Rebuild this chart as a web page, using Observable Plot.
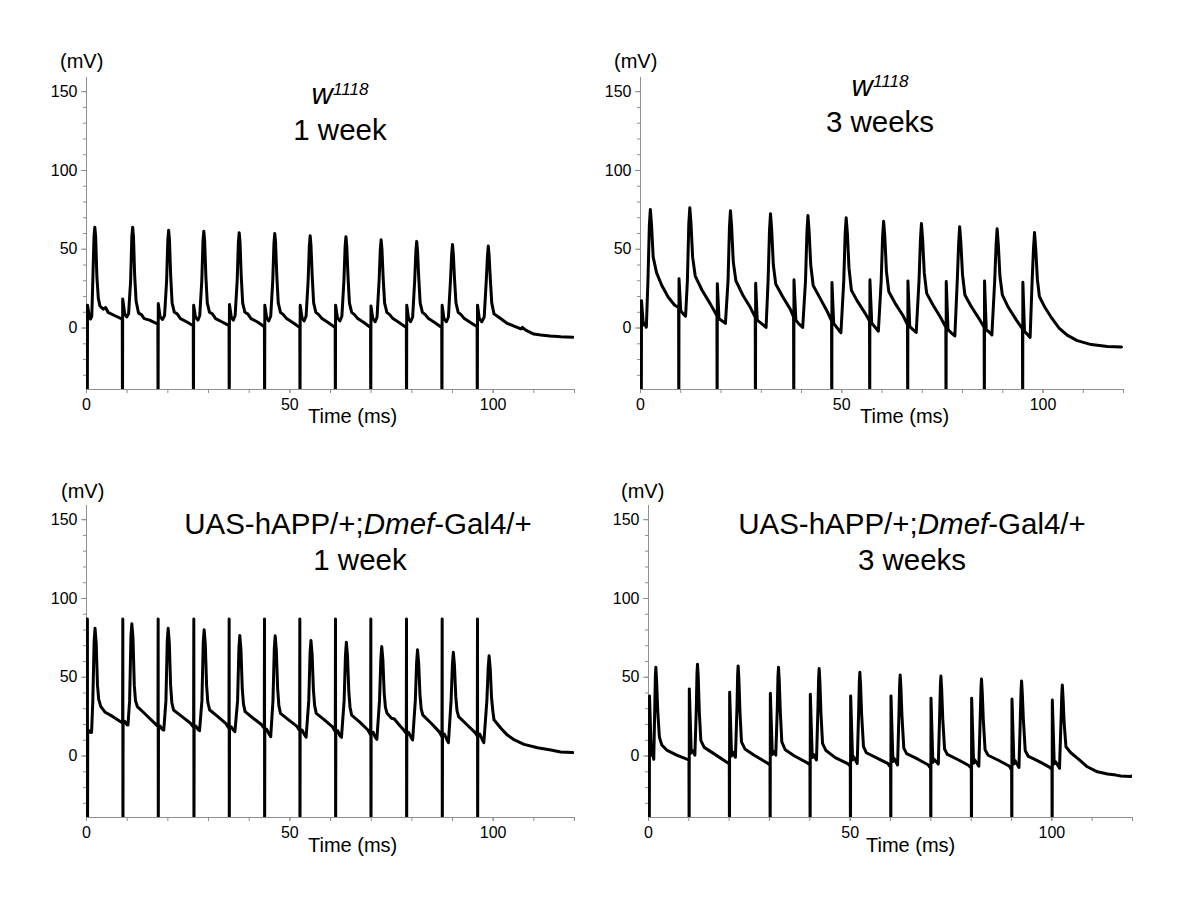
<!DOCTYPE html>
<html><head><meta charset="utf-8">
<script src="https://cdn.jsdelivr.net/npm/d3@7"></script>
<script src="https://cdn.jsdelivr.net/npm/@observablehq/plot@0.6"></script>
<style>
html,body{margin:0;padding:0;background:#fff;}
#wrap{position:relative;width:1200px;height:900px;background:#fff;font-family:Arial,"Liberation Sans",sans-serif;color:#000;overflow:hidden;}
.p{position:absolute;}
.t{position:absolute;white-space:nowrap;line-height:1;}
.sup{font-size:0.58em;position:relative;top:-0.5em;}
</style></head><body><div id="wrap"></div>
<script>
// ---- axis / tick definitions ----
const xDomain = [0, 120];
const yDomain = [-39, 159];
const xTicksMajor = [0, 50, 100];
const xTicksMinor = [0, 10, 20, 30, 40, 50, 60, 70, 80, 90, 100, 110, 120];
const yTicksMajor = [0, 50, 100, 150];
const yTicksMinor = [-30, -20, -10, 0, 10, 20, 30, 40, 50, 60, 70, 80, 90, 100, 110, 120, 130, 140, 150];

// ---- text ----
const genotypes = ["<i>w</i><span class='sup'><i>1118</i></span>", "<i>w</i><span class='sup'><i>1118</i></span>",
  "UAS-hAPP/+;<i>Dmef</i>-Gal4/+", "UAS-hAPP/+;<i>Dmef</i>-Gal4/+"];
const ages = ["1 week", "3 weeks", "1 week", "3 weeks"];
const yUnit = "(mV)";
const xLabel = "Time (ms)";

// ---- traces: [time (ms), membrane potential (mV)] ; -60 = stimulus artifact off-scale ----
const traceW1118_1wk = [
[0.2,-60],[0.25,14.5],[0.7,7],[1.0,5.7],[1.3,7.5],[1.55,30],[1.85,58],[2.05,64],[2.25,58],[2.55,33],[2.9,19],[3.3,14],[4.1,12],[4.7,13],[5.3,10],[7.0,7.8],[8.8,5.7],
[8.85,-60],[8.9,18.5],[9.4,9],[9.9,7],[10.35,9],[10.85,30],[11.15,58],[11.35,64],[11.55,58],[11.85,33],[12.2,17],[12.8,9.5],[13.5,8.5],[14.2,6],[15.5,5],[17.55,2.5],
[17.6,-60],[17.65,15.5],[18.1,7],[18.7,5.5],[19.2,8],[19.7,30],[20.0,56],[20.2,62],[20.4,56],[20.7,33],[21.05,16],[21.6,10],[22.3,9],[23.1,6],[24.6,4],[26.25,1.5],
[26.3,-60],[26.35,14.5],[26.8,7],[27.4,5],[27.85,8],[28.35,30],[28.65,55.5],[28.85,61.5],[29.05,55.5],[29.35,33],[29.7,16],[30.25,10],[30.95,9],[31.75,6],[33.25,4],[35.05,1.5],
[35.1,-60],[35.15,15],[35.6,7],[36.1,5],[36.55,8],[37.05,30],[37.35,54.5],[37.55,60.5],[37.75,54.5],[38.05,33],[38.4,16],[38.95,10],[39.65,9],[40.45,6],[41.95,4],[43.75,0.8],
[43.8,-60],[43.85,14.5],[44.3,6.5],[44.8,4.5],[45.3,7.5],[45.8,30],[46.1,54],[46.3,60],[46.5,54],[46.8,33],[47.15,16],[47.7,10],[48.4,8.5],[49.2,6],[50.7,3.5],[52.45,0.4],
[52.5,-60],[52.55,14.5],[53.0,6.5],[53.5,4.5],[54.0,7.5],[54.5,30],[54.8,52.5],[55.0,58.5],[55.2,52.5],[55.5,33],[55.85,16],[56.4,10],[57.1,8.5],[57.9,6],[59.4,3.5],[61.15,0.4],
[61.2,-60],[61.25,14.5],[61.7,6.5],[62.3,4.5],[62.8,7.5],[63.3,30],[63.6,52],[63.8,58],[64.0,52],[64.3,33],[64.65,16],[65.2,10],[65.9,8.5],[66.7,6],[68.2,3.5],[69.85,0.4],
[69.9,-60],[69.95,14],[70.4,6],[71.0,4],[71.45,7],[71.95,30],[72.25,50],[72.45,56],[72.65,50],[72.95,32],[73.3,16],[73.85,10],[74.55,8.5],[75.35,6],[76.85,3.5],[78.65,0.4],
[78.7,-60],[78.75,14.5],[79.2,6],[79.7,4],[80.2,7],[80.7,30],[81.0,49],[81.2,55],[81.4,49],[81.7,32],[82.05,16],[82.6,10],[83.3,8.5],[84.1,6],[85.6,3.5],[87.35,0.4],
[87.4,-60],[87.45,14.5],[87.9,6],[88.5,4],[89.0,7],[89.5,30],[89.8,47],[90.0,53],[90.2,47],[90.5,31],[90.85,16],[91.4,10],[92.1,8.5],[92.9,6],[94.4,3.5],[96.05,0.8],
[96.1,-60],[96.15,14.5],[96.6,6],[97.2,4],[97.8,7],[98.3,30],[98.6,46],[98.8,52],[99.0,46],[99.3,31],[99.65,16],[100.2,9],[101.4,6.8],[103.4,3],[105.6,0.8],[106.8,-0.6],[107.2,0.4],[108.0,-1.3],[110.0,-3.8],[111.7,-4.4],[114.0,-5],[116.6,-5.5],[119.6,-5.8]
];

const traceW1118_3wk = [
[0.2,-60],[0.25,17.4],[0.7,2],[1.0,3],[1.45,0.5],[1.85,30],[2.2,65],[2.45,75.3],[2.75,65],[3.15,45],[4.0,35],[5.3,27],[6.9,19.5],[8.5,14.5],[9.47,13],
[9.52,-60],[9.57,31.3],[10.0,11],[10.6,9],[11.2,7.5],[11.65,30],[12.0,66],[12.25,76.4],[12.55,66],[12.95,45],[13.6,33],[15.3,24],[17.3,15.5],[18.99,7.8],
[19.04,-60],[19.09,28.1],[19.5,6],[20.3,4.5],[21.1,3],[21.75,30],[22.1,64],[22.35,74.5],[22.65,64],[23.05,42],[23.7,30],[25.4,21],[27.3,13],[28.51,6.8],
[28.56,-60],[28.61,28.5],[29.0,5],[30.0,3],[31.2,0.4],[31.7,30],[32.05,62],[32.3,72.6],[32.6,62],[33.0,40],[33.6,28],[35.3,20],[37.2,12],[38.03,7],
[38.08,-60],[38.13,30.6],[38.6,5],[39.4,2.5],[40.3,0.4],[41.0,30],[41.35,61],[41.6,71.5],[41.9,61],[42.3,40],[42.9,27],[44.6,19],[46.5,10],[47.47,4.6],
[47.52,-60],[47.57,28.9],[48.0,3],[48.9,0],[49.8,-3],[50.5,30],[50.85,60],[51.1,70],[51.4,60],[51.8,38],[52.4,24],[53.8,17.4],[55.9,9],[56.9,4.4],
[56.95,-60],[57.0,30.6],[57.45,3],[58.3,0.5],[59.1,-2],[59.8,30],[60.15,58],[60.4,67.7],[60.7,58],[61.1,36],[61.7,23],[63.2,16],[65.2,8],[66.34,2.1],
[66.39,-60],[66.44,29.8],[66.9,1],[67.7,-1],[68.5,-2.8],[69.2,30],[69.55,56],[69.8,66.4],[70.1,56],[70.5,35],[71.1,22],[72.6,15],[74.6,6.5],[75.86,0.4],
[75.91,-60],[75.96,29.6],[76.4,-1],[77.2,-3],[78.1,-5],[78.7,30],[79.05,54],[79.3,64.3],[79.6,54],[80.0,34],[80.6,21],[82.1,14],[84.1,6],[85.38,0.4],
[85.43,-60],[85.48,29.8],[85.9,-1],[86.6,-2.5],[87.3,-4.3],[88.0,30],[88.35,53],[88.6,63],[88.9,53],[89.3,33],[89.9,21],[91.4,13],[93.4,5],[94.9,-0.6],
[94.95,-60],[95.0,29.1],[95.4,-2],[96.1,-4],[96.8,-6],[97.3,30],[97.65,51],[97.9,60.6],[98.2,50],[98.6,31],[99.1,20],[100.5,13],[102.0,7],[104.0,0],[106.0,-4.5],[108.5,-8],[112.0,-10.5],[116.0,-11.7],[119.5,-12]
];

const traceAPP_1wk = [
[0.2,-60],[0.22,87],[0.25,-60],[0.3,16],[0.7,16],[1.0,15],[1.25,15],[1.55,35],[1.88,73],[2.1,81.1],[2.38,72],[2.7,45],[3.0,36],[3.5,31.5],[4.5,28],[6.5,25],[8.4,21.7],[8.88,21.2],
[8.93,87],[8.96,-60],[9.0,21.5],[9.4,22],[9.9,20],[10.2,19.7],[10.6,35],[10.93,76],[11.15,83.9],[11.43,75],[11.75,45],[12.05,35],[12.5,31.4],[14.3,27],[16.8,20.7],[17.57,18.8],
[17.62,87],[17.65,-60],[17.7,18.5],[18.1,19],[18.6,17],[19.0,16.5],[19.53,35],[19.86,73],[20.08,81.1],[20.36,72],[20.68,45],[20.98,34],[21.4,29.2],[23.5,25],[25.5,21],[26.34,18.2],
[26.39,87],[26.42,-60],[26.47,18.5],[26.9,19],[27.4,17],[27.8,16.1],[28.38,35],[28.71,72],[28.93,80.1],[29.21,71],[29.53,45],[29.83,34],[30.3,29.2],[32.3,25],[34.3,20.5],[35.03,17.6],
[35.08,87],[35.11,-60],[35.16,18],[35.6,18.5],[36.1,16.5],[36.5,15.5],[37.15,35],[37.48,68.5],[37.7,76.5],[37.98,67.5],[38.3,43],[38.6,33],[39.0,28.2],[41.0,24],[43.0,20],[43.72,17.6],
[43.77,87],[43.8,-60],[43.85,17.5],[44.3,17],[44.9,14],[45.3,12.3],[45.85,35],[46.18,68],[46.4,76.3],[46.68,67],[47.0,43],[47.3,32],[47.7,27.1],[49.7,23],[51.7,19],[52.41,16.1],
[52.46,87],[52.49,-60],[52.54,16.5],[53.0,16.5],[53.6,13.5],[54.0,11.9],[54.65,35],[54.98,65.5],[55.2,73.3],[55.48,64.5],[55.8,42],[56.1,32],[56.5,27.1],[58.5,23],[60.5,18.5],[61.18,15.5],
[61.23,87],[61.26,-60],[61.31,16],[61.8,16],[62.3,13],[62.7,11.9],[63.35,35],[63.68,64],[63.9,72.2],[64.18,63.5],[64.5,41],[64.8,31],[65.2,26],[67.2,21.5],[69.2,16.5],[69.87,13.3],
[69.92,87],[69.95,-60],[70.0,14.5],[70.5,15],[71.0,12],[71.4,10.6],[72.05,35],[72.38,61.5],[72.6,69.5],[72.88,61],[73.2,40],[73.5,31],[73.9,27.1],[75.0,24],[75.7,23.5],[76.5,21],[78.0,16.5],[78.64,14.4],
[78.69,87],[78.72,-60],[78.77,14.5],[79.2,15],[79.8,12],[80.2,10.2],[80.85,35],[81.18,59.5],[81.4,67.4],[81.68,59],[82.0,39],[82.3,30],[82.7,26],[84.7,21],[86.7,15.5],[87.41,12.3],
[87.46,87],[87.49,-60],[87.54,13],[88.0,14],[88.6,10.5],[89.0,8.5],[89.65,35],[89.98,58],[90.2,65.9],[90.48,57.5],[90.8,38],[91.1,29],[91.5,25],[93.5,20],[95.5,15],[96.1,12.7],
[96.15,87],[96.18,-60],[96.23,13],[96.7,14],[97.3,10.5],[97.7,8.5],[98.45,35],[98.78,56],[99.0,63.6],[99.28,55.5],[99.6,37],[99.9,29],[100.2,23],[101.9,17.6],[103.5,13.3],[105.2,10.2],[107.6,7.4],[110.9,5.3],[114.2,3.8],[116.6,2.6],[119.6,2.2]
];

const traceAPP_3wk = [
[0.2,-60],[0.25,38.1],[0.7,0.5],[1.0,3.5],[1.3,-2.1],[1.55,30],[1.7,50.4],[1.82,56.4],[2.0,48.4],[2.3,28],[2.7,12],[3.3,7],[4.5,3.8],[7.0,0.6],[9.5,-2],[10.03,-2.5],
[10.08,-60],[10.12,42.6],[10.6,2],[10.9,3.5],[11.5,0.6],[11.85,30],[12.02,52.3],[12.15,58.3],[12.33,50.3],[12.6,28],[12.97,10],[13.8,5.5],[16.1,1.7],[19.8,-4.6],[20.03,-5.1],
[20.08,-60],[20.12,40.5],[20.6,0],[20.9,2.5],[21.55,-0.8],[21.93,30],[22.1,51.2],[22.23,57.2],[22.41,49.2],[22.68,28],[23.05,9],[23.9,4.5],[26.2,0.5],[29.5,-4.5],[30.12,-5.7],
[30.17,-60],[30.21,39.8],[30.7,1],[31.0,3],[31.55,0.6],[31.93,30],[32.1,50.4],[32.23,56.4],[32.41,48.4],[32.68,28],[33.05,9],[33.9,4],[36.2,0],[39.5,-4.5],[40.03,-5.7],
[40.08,-60],[40.12,39.2],[40.6,-1],[40.9,1],[41.65,-2.5],[42.01,30],[42.18,49.5],[42.31,55.5],[42.49,47.5],[42.76,27],[43.15,8],[44.0,3.5],[46.3,-1],[49.5,-5],[50.03,-6.4],
[50.08,-60],[50.12,38.1],[50.6,-2.5],[50.9,-0.5],[51.75,-4.7],[52.1,28],[52.27,47.2],[52.4,53.2],[52.58,45.2],[52.85,26],[53.3,6],[54.0,2.1],[56.8,-1.5],[59.3,-4.7],[60.03,-7.2],
[60.08,-60],[60.12,38.1],[60.6,-3.5],[60.9,-1.5],[61.75,-5.7],[62.1,27],[62.27,45.5],[62.4,51.5],[62.58,43.5],[62.85,25],[63.3,5],[64.0,1.5],[66.8,-2],[69.3,-5.5],[69.95,-7.8],
[70.0,-60],[70.04,36.7],[70.5,-4],[70.8,-2],[71.85,-5.1],[72.2,27],[72.37,44.8],[72.5,50.8],[72.68,42.8],[72.95,24],[73.4,4.5],[74.1,1],[76.9,-2.5],[79.4,-6],[80.03,-7.8],
[80.08,-60],[80.12,36.7],[80.6,-4.5],[80.9,-2.5],[81.9,-6.4],[82.26,26],[82.43,42.9],[82.56,48.9],[82.74,40.9],[83.01,23],[83.45,4],[84.2,0.5],[87.0,-3],[89.5,-6.5],[90.03,-8.9],
[90.08,-60],[90.12,36.2],[90.6,-5],[90.9,-3],[91.85,-7.2],[92.2,25],[92.37,41.7],[92.5,47.7],[92.68,39.7],[92.95,23],[93.4,3.5],[94.1,0],[96.9,-3.5],[99.4,-7],[100.03,-8.5],
[100.08,-60],[100.12,35.6],[100.6,-5],[100.9,-3.5],[101.9,-7.8],[102.3,24],[102.47,39.1],[102.6,45.1],[102.78,37.1],[103.05,21],[103.5,5.9],[104.7,2.1],[106.4,-1.5],[108.8,-6.8],[111.3,-10],[113.8,-11.4],[115.9,-12.1],[117.1,-12.7],[119.5,-13],[120,-12.5]
];

const traces = [traceW1118_1wk, traceW1118_3wk, traceAPP_1wk, traceAPP_3wk];

// ---- layout (pixels) ----
const panelLayout = [
  {left: 0,   top: 0,   plotW: 488, t1: [340, 104], t2: [340, 140], unit: [60, 68],  xl: [308, 423]},
  {left: 554, top: 0,   plotW: 483, t1: [880, 96],  t2: [880, 132], unit: [614, 68], xl: [860, 423]},
  {left: 0,   top: 428, plotW: 488, t1: [358, 534], t2: [360, 570], unit: [61, 498], xl: [308, 852]},
  {left: 562, top: 428, plotW: 484, t1: [912, 534], t2: [912, 570], unit: [621, 498], xl: [866, 852]}
];
const ML = 86, MT = 77, PH = 312, SVGH = 440;
const axisGrey = "#8f8f8f";
const FONT = "Arial, 'Liberation Sans', sans-serif";
const TITLE_SIZE = 29.5;

const wrap = document.getElementById("wrap");

function makePanel(trace, plotW) {
  const width = ML + plotW + 20;
  return Plot.plot({
    width, height: SVGH,
    marginLeft: ML, marginRight: 20, marginTop: MT, marginBottom: SVGH - MT - PH,
    x: {domain: xDomain},
    y: {domain: yDomain},
    style: {fontFamily: FONT, fontSize: "16px", color: "black", background: "transparent", overflow: "visible"},
    marks: [
      Plot.ruleX([xDomain[0]], {stroke: axisGrey, strokeWidth: 1}),
      Plot.ruleY([yDomain[0]], {stroke: axisGrey, strokeWidth: 1}),
      Plot.axisY({ticks: yTicksMinor, tickSize: 3, tickFormat: () => "", stroke: axisGrey, label: null}),
      Plot.axisY({ticks: yTicksMajor, tickSize: 5, tickPadding: 4, stroke: axisGrey, fill: "black", fontSize: 16, label: null}),
      Plot.axisX({ticks: xTicksMinor, tickSize: 4, tickFormat: () => "", stroke: axisGrey, label: null}),
      Plot.axisX({ticks: xTicksMajor, tickSize: 4, tickPadding: 5, stroke: axisGrey, fill: "black", fontSize: 16, label: null}),
      Plot.line(trace, {x: d => d[0], y: d => d[1], stroke: "black", strokeWidth: 3, clip: true})
    ]
  });
}

function addText(html, x, base, size, align) {
  const d = document.createElement("div");
  d.className = "t";
  d.innerHTML = html;
  d.style.fontSize = size + "px";
  d.style.top = (base - 0.847 * size) + "px";
  if (align === "center") {
    d.style.left = (x - 300) + "px";
    d.style.width = "600px";
    d.style.textAlign = "center";
  } else {
    d.style.left = x + "px";
  }
  wrap.appendChild(d);
}

panelLayout.forEach((L, i) => {
  const holder = document.createElement("div");
  holder.className = "p";
  holder.style.left = L.left + "px";
  holder.style.top = L.top + "px";
  holder.appendChild(makePanel(traces[i], L.plotW));
  wrap.appendChild(holder);
  addText(genotypes[i], L.t1[0], L.t1[1], TITLE_SIZE, "center");
  addText(ages[i], L.t2[0], L.t2[1], TITLE_SIZE, "center");
  addText(yUnit, L.unit[0], L.unit[1], 20, "left");
  addText(xLabel, L.xl[0], L.xl[1], 20, "left");
});
</script>
</body></html>
